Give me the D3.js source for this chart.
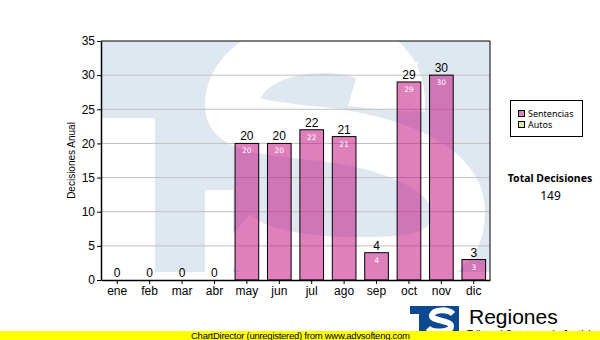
<!DOCTYPE html>
<html>
<head>
<meta charset="utf-8">
<script src="https://cdn.jsdelivr.net/npm/d3@7"></script>
<style>
	body { margin: 0; background: #fff; }
	svg { display: block; }
</style>
</head>
<body>
<svg width="600" height="340"></svg>
<script>
// data
const meses = ["ene", "feb", "mar", "abr", "may", "jun", "jul", "ago", "sep", "oct", "nov", "dic"];
const sentencias = [0, 0, 0, 0, 20, 20, 22, 21, 4, 29, 30, 3];
const yTicks = [0, 5, 10, 15, 20, 25, 30, 35];
const leyenda = ["Sentencias", "Autos"];

const svg = d3.select("svg");
const margin = { top: 41, left: 101, right: 110, bottom: 60 };
const width = 600 - margin.left - margin.right;   // 389
const height = 340 - margin.top - margin.bottom;  // 239

const x = d3.scaleBand(meses, [0, width]).paddingInner(0.27).paddingOuter(0.135);
const y = d3.scaleLinear([0, 35], [height, 0]);

const azulClaro = "#dfe8f1";

svg.append("defs").append("clipPath")
	.attr("id", "clip")
	.append("rect")
	.attr("width", width)
	.attr("height", height);

const g = svg.append("g")
	.attr("transform", `translate(${margin.left},${margin.top})`);

// marca de agua (logo TS): T azul claro y S blanca
const fondo = g.append("g").attr("clip-path", "url(#clip)");
fondo.append("rect").attr("width", width).attr("height", height).attr("fill", azulClaro);
fondo.append("rect").attr("x", 0).attr("y", 77).attr("width", 54).attr("height", height).attr("fill", "#fff");
fondo.append("rect").attr("x", 0).attr("y", 231).attr("width", width).attr("height", 10).attr("fill", "#fff");

const ese = fondo.append("g").attr("transform", `translate(${-margin.left},${-margin.top})`);
ese.append("path")
	.attr("d", "M398,110 C400,72 380,48 330,46 C270,44 232,72 232,105 C232,126 265,128 330,135 C400,145 458,170 458,212 C458,258 420,264 360,264 C300,264 255,255 232,235")
	.attr("fill", "none")
	.attr("stroke", "#fff")
	.attr("stroke-width", 54);
ese.append("path")
	.attr("d", "M348,106 L412,112 L418,62 L362,58 Z")
	.attr("fill", "#fff");
ese.append("rect").attr("x", 205).attr("y", 190).attr("width", 28).attr("height", 90).attr("fill", "#fff");

// rejilla
g.append("g")
	.selectAll("line")
	.data(yTicks.filter(d => d > 0 && d < 35))
	.join("line")
	.attr("x1", 0)
	.attr("x2", width)
	.attr("y1", d => y(d))
	.attr("y2", d => y(d))
	.attr("stroke", "#c0c0c0")
	.attr("stroke-width", 1);

// barras
g.append("g")
	.selectAll("rect")
	.data(sentencias)
	.join("rect")
	.attr("x", (d, i) => x(meses[i]))
	.attr("y", d => y(d))
	.attr("width", x.bandwidth())
	.attr("height", d => y(0) - y(d))
	.attr("fill", "rgb(195,16,130)")
	.attr("fill-opacity", 0.53)
	.attr("stroke", d => d > 0 ? "#000" : "none")
	.attr("stroke-width", 1);

// etiquetas sobre barras
g.append("g")
	.selectAll("text")
	.data(sentencias)
	.join("text")
	.attr("x", (d, i) => x(meses[i]) + x.bandwidth() / 2)
	.attr("y", d => y(d) - 3)
	.attr("text-anchor", "middle")
	.attr("font-family", "Liberation Sans")
	.attr("font-size", 12)
	.attr("fill", "#000")
	.text(d => d);

// etiquetas dentro de barras
g.append("g")
	.selectAll("text")
	.data(meses.map((m, i) => ({ m, v: sentencias[i] })).filter(d => d.v > 0))
	.join("text")
	.attr("x", d => x(d.m) + x.bandwidth() / 2)
	.attr("y", d => y(d.v) + 10)
	.attr("text-anchor", "middle")
	.attr("font-family", "DejaVu Sans")
	.attr("font-size", 7.5)
	.attr("fill", "#fff")
	.text(d => d.v);

// ejes
const gX = g.append("g")
	.attr("transform", `translate(0,${height})`)
	.call(d3.axisBottom(x).tickSizeInner(4).tickSizeOuter(0).tickPadding(2));

const gY = g.append("g")
	.call(d3.axisLeft(y).tickValues(yTicks).tickSizeInner(4).tickSizeOuter(0).tickPadding(2));

[gX, gY].forEach(a => {
	a.select(".domain").attr("stroke", "#000").attr("stroke-width", 1.5);
	a.selectAll(".tick line").attr("stroke", "#000");
	a.selectAll(".tick text")
		.attr("font-family", "Liberation Sans")
		.attr("font-size", 12)
		.attr("fill", "#000");
});

// borde superior y derecho
g.append("path")
	.attr("d", `M0,0H${width}V${height}`)
	.attr("fill", "none")
	.attr("stroke", "#000")
	.attr("stroke-width", 1);

// titulo eje y
svg.append("text")
	.attr("transform", `translate(75,${margin.top + height / 2}) rotate(-90)`)
	.attr("text-anchor", "middle")
	.attr("font-family", "Liberation Sans")
	.attr("font-size", 10)
	.text("Decisiones Anual");

// leyenda
const colores = ["#dd80bd", "#d8ec9c"];
const ley = svg.append("g").attr("transform", "translate(510,100)");
ley.append("rect")
	.attr("x", 0.5).attr("y", 0.5)
	.attr("width", 72).attr("height", 36)
	.attr("fill", "#fff").attr("stroke", "#000");
ley.selectAll("g")
	.data(leyenda)
	.join("g")
	.attr("transform", (d, i) => `translate(8,${10 + i * 11})`)
	.each(function (d, i) {
		const it = d3.select(this);
		it.append("rect")
			.attr("x", 0.5).attr("y", 0.5)
			.attr("width", 6).attr("height", 6)
			.attr("fill", colores[i]).attr("stroke", "#000");
		it.append("text")
			.attr("x", 10).attr("y", 7)
			.attr("font-family", "Noto Sans")
			.attr("font-size", 9)
			.text(d);
	});

// total
svg.append("text")
	.attr("x", 550).attr("y", 182)
	.attr("text-anchor", "middle")
	.attr("font-family", "Noto Sans")
	.attr("font-weight", "bold")
	.attr("font-size", 10.5)
	.text("Total Decisiones");
svg.append("text")
	.attr("x", 550.5).attr("y", 200)
	.attr("text-anchor", "middle")
	.attr("font-family", "Noto Sans")
	.attr("font-size", 12)
	.text(d3.sum(sentencias));

// logo inferior
const logo = svg.append("g");
logo.append("rect").attr("x", 410).attr("y", 306).attr("width", 49).attr("height", 26).attr("fill", "#0b4a91");
logo.append("rect").attr("x", 410).attr("y", 314).attr("width", 9).attr("height", 18).attr("fill", "#fff");
logo.append("path")
	.attr("d", "M453,314 C448,309 434,309 432,315 C430,321 451,320 451,326 C451,333 433,333 428,328")
	.attr("fill", "none")
	.attr("stroke", "#fff")
	.attr("stroke-width", 6);
svg.append("text")
	.attr("x", 469).attr("y", 324)
	.attr("font-family", "Liberation Sans")
	.attr("font-size", 21)
	.text("Regiones");
svg.append("text")
	.attr("x", 467).attr("y", 338)
	.attr("font-family", "Liberation Sans")
	.attr("font-size", 10)
	.text("Tribunal Supremo de Justicia");

// barra amarilla
svg.append("rect")
	.attr("x", 0).attr("y", 331)
	.attr("width", 600).attr("height", 9)
	.attr("fill", "#ffff00");
svg.append("text")
	.attr("x", 191).attr("y", 338.5)
	.attr("font-family", "Liberation Sans")
	.attr("font-size", 9.5)
	.attr("textLength", 219)
	.text("ChartDirector (unregistered) from www.advsofteng.com");
</script>
</body>
</html>
